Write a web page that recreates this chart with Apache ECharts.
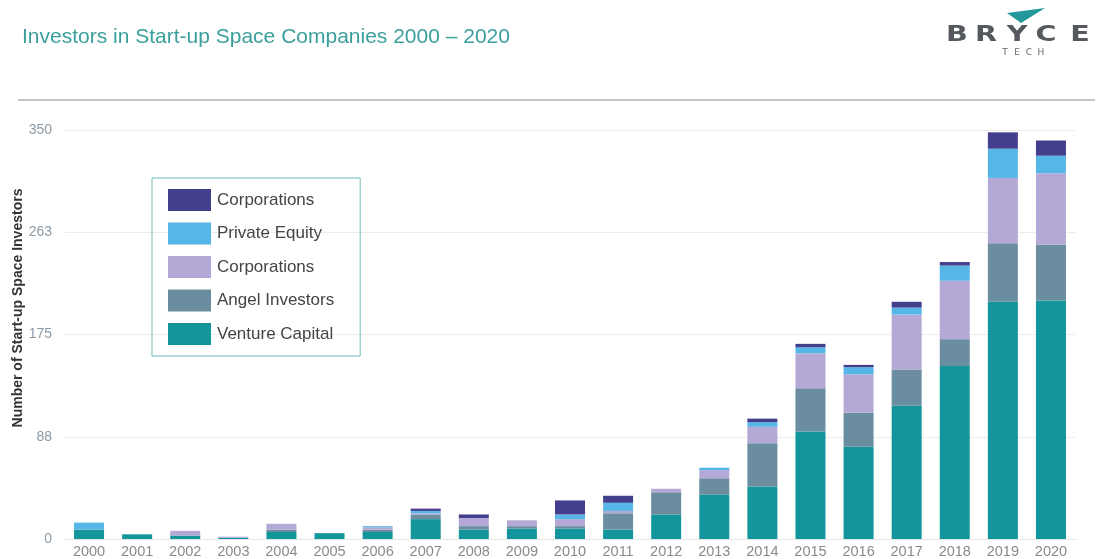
<!DOCTYPE html>
<html>
<head>
<meta charset="utf-8">
<script src="https://cdn.jsdelivr.net/npm/echarts@6/dist/echarts.min.js"></script>
<style>
  html, body { margin: 0; padding: 0; background: #ffffff; }
  #chart { width: 1097px; height: 559px; }
</style>
</head>
<body>
<div id="chart"></div>
<script>
// Years on the category axis
const years = ['2000','2001','2002','2003','2004','2005','2006','2007','2008','2009','2010',
               '2011','2012','2013','2014','2015','2016','2017','2018','2019','2020'];

// Number of investors per category, stacked bottom to top
const ventureCapital = [8, 4, 3, 1, 6, 5, 6, 17, 8, 9, 9, 8, 21, 38, 45, 92, 79, 114, 148, 203, 204];
const angelInvestors = [0, 0, 0, 0, 2, 0, 2, 4, 3, 2, 2, 14, 19, 14, 37, 37, 29, 31, 23, 50, 48];
const corporations   = [0, 0, 4, 1, 5, 0, 2, 1, 7, 5, 6, 2, 3, 7, 14, 30, 33, 47, 50, 56, 61];
const privateEquity  = [6, 0, 0, 0, 0, 0, 1, 2, 0, 0, 4, 7, 0, 2, 4, 5, 6, 6, 13, 25, 15];
const corporateVC    = [0, 0, 0, 0, 0, 0, 0, 2, 3, 0, 12, 6, 0, 0, 3, 3, 2, 5, 3, 14, 13];

// Y axis ticks: 0, 87.5, 175, 262.5, 350 shown rounded
const yTickStep = 87.5;
const yMax = 350;
const yAxisTitle = 'Number of Start-up Space Investors';

// Series keys, their legend labels and colours
const seriesKeys   = ['vc', 'angel', 'corp', 'pe', 'cvc'];
const seriesLabels = {
  vc: 'Venture Capital',
  angel: 'Angel Investors',
  corp: 'Corporations',
  pe: 'Private Equity',
  cvc: 'Corporations'
};
const seriesData = { vc: ventureCapital, angel: angelInvestors, corp: corporations, pe: privateEquity, cvc: corporateVC };
const seriesColors = { vc: '#13969b', angel: '#6b8da0', corp: '#b4a9d6', pe: '#56b6e8', cvc: '#433f8c' };

const chart = echarts.init(document.getElementById('chart'), null, { renderer: 'canvas' });

const series = seriesKeys.map(k => ({
  name: k,
  type: 'bar',
  stack: 'total',
  barWidth: 30,
  data: seriesData[k],
  itemStyle: { color: seriesColors[k] },
  emphasis: { disabled: true }
}));

// Brand mark in the top-right corner
const logoLetters = ['B', 'R', 'Y', 'C', 'E'];
const logoX = [957, 986, 1017, 1046, 1080];
const techLetters = ['T', 'E', 'C', 'H'];
const techX = [1005, 1017, 1029, 1041];

const graphics = [
  {
    type: 'line',
    shape: { x1: 18, y1: 100, x2: 1095, y2: 100 },
    style: { stroke: '#c4c4c4', lineWidth: 2 }
  },
  {
    type: 'polygon',
    shape: { points: [[1007, 13], [1045, 8], [1021, 23]] },
    style: { fill: '#23989a' }
  },
  {
    // Vertical value-axis title
    type: 'text',
    x: 18, y: 308,
    rotation: Math.PI / 2,
    style: {
      text: yAxisTitle, fill: '#333333', font: 'bold 14px "Liberation Sans"',
      align: 'center', verticalAlign: 'middle'
    }
  }
];
logoLetters.forEach((ch, i) => {
  graphics.push({
    type: 'text',
    x: logoX[i], y: 35,
    scaleX: 1.3,
    style: {
      text: ch, fill: '#55595d', font: 'bold 22px "DejaVu Sans"',
      align: 'center', verticalAlign: 'middle'
    }
  });
});
techLetters.forEach((ch, i) => {
  graphics.push({
    type: 'text',
    x: techX[i], y: 53,
    style: {
      text: ch, fill: '#666a6e', font: '9px "DejaVu Sans"',
      align: 'center', verticalAlign: 'middle'
    }
  });
});

const option = {
  backgroundColor: '#ffffff',
  animation: false,
  title: {
    text: 'Investors in Start-up Space Companies 2000 \u2013 2020',
    left: 17,
    top: 22,
    textStyle: { color: '#3a9f9c', fontSize: 21, fontWeight: 'normal', fontFamily: 'Liberation Sans' }
  },
  legend: {
    orient: 'vertical',
    left: 152,
    top: 178,
    data: ['cvc', 'pe', 'corp', 'angel', 'vc'],
    formatter: name => seriesLabels[name],
    icon: 'rect',
    itemWidth: 43,
    itemHeight: 22,
    itemGap: 11.5,
    padding: [11, 26, 11, 16],
    borderColor: '#6fbdb9',
    borderWidth: 1,
    selectedMode: false,
    textStyle: { color: '#444444', fontSize: 17, fontFamily: 'Liberation Sans', padding: [0, 0, 0, 1] }
  },
  grid: { left: 65, right: 22, top: 130, bottom: 20, containLabel: false },
  xAxis: {
    type: 'category',
    data: years,
    axisLine: { show: true, lineStyle: { color: '#e6e6e6' } },
    axisTick: { show: false },
    axisLabel: { color: '#8a8a8a', fontSize: 14.5, margin: 5, fontFamily: 'Liberation Sans' }
  },
  yAxis: {
    type: 'value',
    min: 0,
    max: yMax,
    interval: yTickStep,
    axisLine: { show: false },
    axisTick: { show: false },
    axisLabel: {
      color: '#8c9aa6', fontSize: 14, margin: 13, fontFamily: 'Liberation Sans',
      formatter: v => String(Math.round(v))
    },
    splitLine: { lineStyle: { color: '#ececec', width: 1 } }
  },
  series: series,
  graphic: graphics
};

chart.setOption(option);
</script>
</body>
</html>
